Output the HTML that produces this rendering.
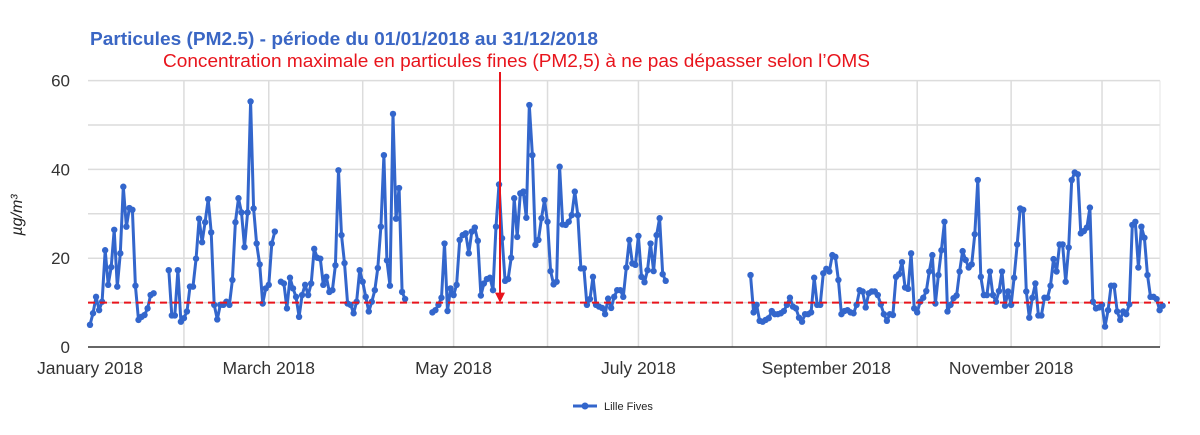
<!DOCTYPE html>
<html><head><meta charset="utf-8"><style>
body{margin:0;background:#fff;width:1200px;height:430px;overflow:hidden;font-family:"Liberation Sans",Arial,sans-serif}
</style></head><body>
<svg id="chart" width="1200" height="430" xmlns="http://www.w3.org/2000/svg">
<text x="90" y="45" font-size="18.5" font-weight="bold" fill="#3a66c4" textLength="508" lengthAdjust="spacingAndGlyphs">Particules (PM2.5) - période du 01/01/2018 au 31/12/2018</text>
<text x="163" y="67" font-size="18.5" fill="#e8141c" textLength="707" lengthAdjust="spacingAndGlyphs">Concentration maximale en particules fines (PM2,5) à ne pas dépasser selon l’OMS</text>
<text transform="translate(22,215) rotate(-90)" font-size="16" font-style="italic" fill="#222" text-anchor="middle">µg/m³</text>
<g id="grid"></g><g id="series"></g><g id="overlay"></g>
<g>
<line x1="573" y1="406" x2="597" y2="406" stroke="#3366cc" stroke-width="3"/>
<circle cx="585" cy="406" r="3.5" fill="#3366cc"/>
<text x="604" y="410" font-size="11" fill="#222">Lille Fives</text>
</g>
</svg>
<script>
const yTicks=[0,20,40,60];
const monthLabels=["January 2018","March 2018","May 2018","July 2018","September 2018","November 2018"];
const monthLabelDays=[0,59,120,181,243,304];
const gridDays=[31,59,90,120,151,181,212,243,273,304,334];
const threshold=10;
const segStarts=[0,26,63,113,218];
const seg1=[5,7.6,11.3,8.3,10.2,21.8,14,18,26.4,13.6,21.1,36.1,27.1,31.3,30.9,13.8,6.1,6.8,7.2,8.7,11.7,12.1];
const seg2=[17.3,7.1,7.1,17.3,5.7,6.5,8,13.6,13.6,19.9,28.9,23.6,28.1,33.3,25.8,9.5,6.2,9.5,9.5,10.2,9.5,15.1,28.1,33.5,30.3,22.5,30.3,55.3,31.2,23.3,18.6,9.8,13.2,14,23.3,26];
const seg3=[14.7,14.3,8.7,15.6,13.2,11.3,6.8,11.7,14,11.7,14.3,22.1,20.1,19.9,14,15.8,12.4,12.8,18.4,39.8,25.2,18.9,9.8,9.5,7.6,10.2,17.3,14.7,11.3,8,10.2,12.8,17.8,27.1,43.2,19.5,13.8,52.5,28.9,35.8,12.4,10.8];
const seg4=[7.8,8.3,9.5,11.1,23.3,8.1,13.2,11.7,14,24.1,25.2,25.6,21.1,26,26.9,23.9,11.6,14.3,15.3,15.6,12.8,27.1,36.6,24.5,14.9,15.3,20.1,33.5,24.8,34.6,35,29.1,54.5,43.2,23,24.1,29,33.1,28.2,17.1,14.1,14.7,40.6,27.6,27.5,28.2,29.7,35,29.7,17.7,17.7,9.5,10.8,15.8,9.5,9.1,8.8,7.4,10.9,8.8,11.3,12.8,12.8,11.3,17.9,24.1,18.8,18.5,25,15.8,14.6,17.3,23.3,17.1,25.2,29,16.4,14.9];
const seg5=[16.2,7.8,9.5,5.9,5.7,6.1,6.5,8.1,7.4,7.4,7.6,8.1,9.5,11.1,9.1,8.7,6.6,5.7,7.4,7.4,7.8,15.6,9.5,9.5,16.6,17.6,17,20.7,20.3,15.1,7.4,8.1,8.3,7.8,7.6,9.5,12.8,12.5,8.9,12.1,12.5,12.5,11.7,9.6,7.4,5.9,7.4,7.2,15.8,16.4,19.1,13.4,13.1,21.1,8.7,7.8,10.2,11.1,12.6,17,20.7,9.8,16.2,21.8,28.2,8,9.5,11,11.6,17,21.6,19.6,17.9,18.6,25.4,37.6,15.8,11.7,11.7,17,11.7,10.2,12.6,17,9.3,12.5,9.5,15.6,23.1,31.2,30.9,12.5,6.6,11.1,14.3,7.1,7.1,11.1,11.1,13.8,19.8,17,23.1,23.1,14.7,22.4,37.6,39.3,38.9,25.6,26.1,26.9,31.4,10.2,8.7,8.9,9.5,4.6,8.3,13.8,13.8,8,6.1,8,7.4,9.6,27.5,28.2,17.9,27.1,24.6,16.2,11.3,11.3,10.8,8.3,9.3];
const segments=[seg1,seg2,seg3,seg4,seg5];
const NS="http://www.w3.org/2000/svg";
const X0=90,PX=3.03,Y0=347,PY=4.44,LEFT=88,RIGHT=1160;
const x=d=>X0+d*PX, y=v=>Y0-v*PY;
function mk(tag,attrs,parent){const e=document.createElementNS(NS,tag);for(const k in attrs)e.setAttribute(k,attrs[k]);parent.appendChild(e);return e;}
const grid=document.getElementById('grid'),ser=document.getElementById('series'),ov=document.getElementById('overlay'),svg=document.getElementById('chart');
for(let v=10;v<=60;v+=10){const l=mk('line',{x1:LEFT,x2:RIGHT,y1:y(v),y2:y(v),stroke:'#dcdcdc','stroke-width':1.5},grid);

}
gridDays.forEach(d=>{const l=mk('line',{x1:x(d),x2:x(d),y1:y(60),y2:Y0,stroke:'#dcdcdc','stroke-width':1.5},grid);

});
const rb=mk('line',{x1:RIGHT,x2:RIGHT,y1:y(60),y2:Y0,stroke:'#e4e4e4','stroke-width':1},grid);


const base=mk('line',{x1:LEFT,x2:RIGHT,y1:Y0,y2:Y0,stroke:'#333','stroke-width':1.5},grid);


yTicks.forEach(v=>{const t=mk('text',{x:70,y:y(v)+6,'font-size':17,fill:'#333','text-anchor':'end'},svg);t.textContent=v;

});
monthLabels.forEach((m,i)=>{const t=mk('text',{x:x(monthLabelDays[i]),y:374,'font-size':17.5,fill:'#333','text-anchor':'middle'},svg);t.textContent=m;

});
segments.forEach((s,si)=>{const pts=s.map((v,i)=>x(segStarts[si]+i).toFixed(1)+','+y(v).toFixed(1)).join(' ');
const pl=mk('polyline',{points:pts,fill:'none',stroke:'#3366cc','stroke-width':3,'stroke-linejoin':'round'},ser);


s.forEach((v,i)=>{const c=mk('circle',{cx:x(segStarts[si]+i),cy:y(v),r:3.2,fill:'#3366cc'},ser);

});});
const th=mk('line',{x1:LEFT,x2:1170,y1:y(threshold),y2:y(threshold),stroke:'#e8141c','stroke-width':2,'stroke-dasharray':'7,5'},ov);


const ar=mk('line',{x1:500,x2:500,y1:72,y2:y(threshold)-4,stroke:'#e8141c','stroke-width':2},ov);


const ah=mk('polygon',{points:`495,${y(threshold)-10} 505,${y(threshold)-10} 500,${y(threshold)}`,fill:'#e8141c'},ov);


</script>
</body></html>
